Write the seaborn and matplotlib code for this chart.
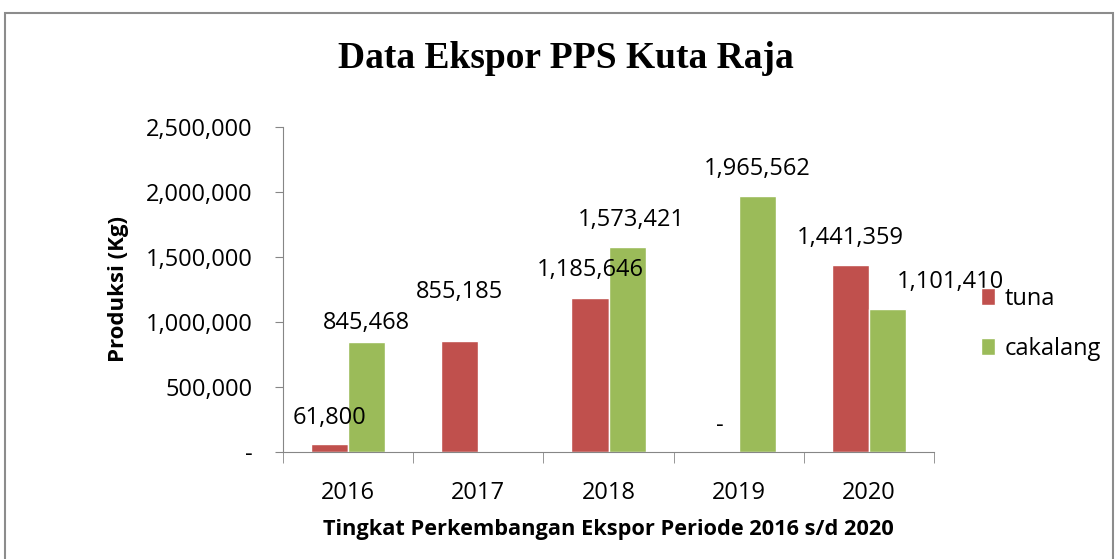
import matplotlib.pyplot as plt
import matplotlib.ticker as mticker
from matplotlib.patches import Rectangle
import pandas as pd
import seaborn as sns

# Data
years = ['2016', '2017', '2018', '2019', '2020']
tuna = [61800, 855185, 1185646, 0, 1441359]
cakalang = [845468, None, 1573421, 1965562, 1101410]
series = ['tuna', 'cakalang']
colors = ['#C0504D', '#9BBB59']

# label nudges in points (dx, dy) from the top of each bar, as in the original
tuna_offsets = [(0, 19), (0, 35), (0, 20), (0, 19), (0, 19)]
cakalang_offsets = [(0, 14), (0, 0), (3, 20), (0, 20), (45, 19)]

df = pd.DataFrame({
    'year': years * 2,
    'value': tuna + cakalang,
    'series': ['tuna'] * len(years) + ['cakalang'] * len(years),
})

sns.set_style('white')
plt.rcParams['font.family'] = ['Open Sans', 'DejaVu Sans']
plt.rcParams['text.color'] = 'black'
plt.rcParams['axes.labelcolor'] = 'black'

fig = plt.figure(figsize=(11.15, 5.59), dpi=100)
ax = fig.add_axes([283 / 1115, 1 - 452 / 559, (934 - 283) / 1115, (452 - 127) / 559])

sns.barplot(data=df, x='year', y='value', hue='series', hue_order=series,
            palette=colors, width=0.57, saturation=1, ax=ax, legend=True)

ax.set_xlim(-0.5, len(years) - 0.5)
ax.set_ylim(0, 2500000)
ax.yaxis.set_major_locator(mticker.MultipleLocator(500000))
ax.yaxis.set_major_formatter(mticker.FuncFormatter(lambda v, p: '-' if v == 0 else f'{int(v):,}'))

# category boundary ticks like Excel
ax.set_xticks([i - 0.5 for i in range(len(years) + 1)], minor=True)
ax.tick_params(axis='x', which='minor', length=8, color='#868686', direction='out', bottom=True)
ax.tick_params(axis='x', which='major', length=0, pad=21, labelsize=17, labelcolor='black')
ax.tick_params(axis='y', which='major', length=6, color='#868686', direction='out', left=True,
               labelsize=17, pad=16, labelcolor='black')

for s in ['top', 'right']:
    ax.spines[s].set_visible(False)
for s in ['left', 'bottom']:
    ax.spines[s].set_color('#868686')

ax.set_xlabel('Tingkat Perkembangan Ekspor Periode 2016 s/d 2020', fontsize=15.7, fontweight='bold', labelpad=10)
ax.set_ylabel('Produksi (Kg)', fontsize=16, fontweight='bold', labelpad=12)

# data labels, matched to bars by their x position (missing bars are not drawn)
all_vals = [tuna, cakalang]
all_offs = [tuna_offsets, cakalang_offsets]
for k, container in enumerate(ax.containers):
    for bar in container:
        i = int(round(bar.get_x() + bar.get_width() / 2))
        v = all_vals[k][i]
        if v is None or pd.isna(v):
            continue
        dx, dy = all_offs[k][i]
        txt = '-' if v == 0 else f'{int(v):,}'
        ax.annotate(txt, (bar.get_x() + bar.get_width() / 2, bar.get_height()),
                    xytext=(dx, dy), textcoords='offset points',
                    ha='center', va='center', fontsize=17, annotation_clip=False)

leg = ax.legend(loc='center left', bbox_to_anchor=(1.04, 0.395), frameon=False,
                fontsize=17, handlelength=0.6, handleheight=0.7, labelspacing=1.1,
                handletextpad=0.4)

fig.text(566 / 1115, 1 - 58 / 559, 'Data Ekspor PPS Kuta Raja', ha='center', va='center',
         fontsize=27, fontweight='bold', family='Liberation Serif')

fig.patches.append(Rectangle((5 / 1115, -0.1), 1108 / 1115, 1.1 - 13 / 559, transform=fig.transFigure,
                             fill=False, edgecolor='#8c8c8c', linewidth=1.5))

fig.savefig('out.png', dpi=100)
